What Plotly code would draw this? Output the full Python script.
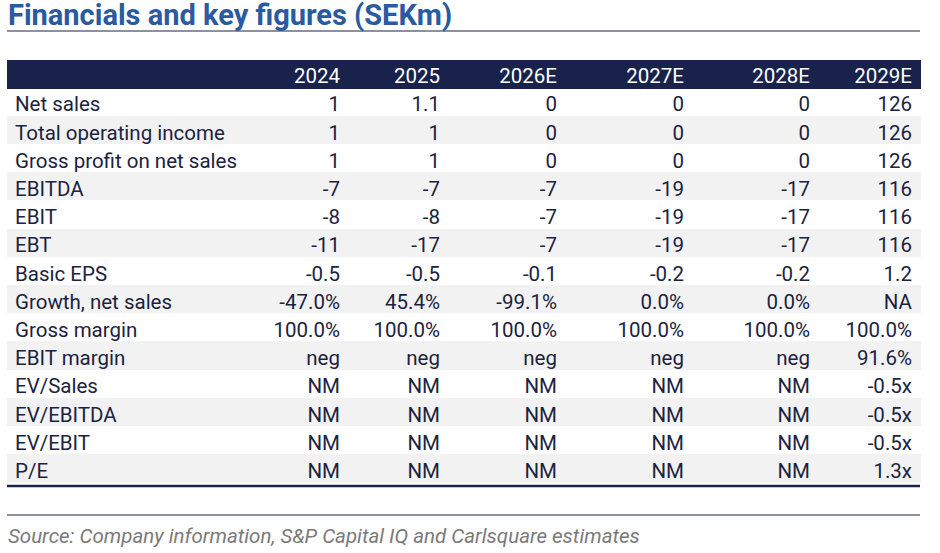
import plotly.graph_objects as go

# table content
columns = ["", "2024", "2025", "2026E", "2027E", "2028E", "2029E"]
row_labels = ["Net sales", "Total operating income", "Gross profit on net sales", "EBITDA",
              "EBIT", "EBT", "Basic EPS", "Growth, net sales", "Gross margin", "EBIT margin",
              "EV/Sales", "EV/EBITDA", "EV/EBIT", "P/E"]
y2024 = ["1", "1", "1", "-7", "-8", "-11", "-0.5", "-47.0%", "100.0%", "neg", "NM", "NM", "NM", "NM"]
y2025 = ["1.1", "1", "1", "-7", "-8", "-17", "-0.5", "45.4%", "100.0%", "neg", "NM", "NM", "NM", "NM"]
y2026 = ["0", "0", "0", "-7", "-7", "-7", "-0.1", "-99.1%", "100.0%", "neg", "NM", "NM", "NM", "NM"]
y2027 = ["0", "0", "0", "-19", "-19", "-19", "-0.2", "0.0%", "100.0%", "neg", "NM", "NM", "NM", "NM"]
y2028 = ["0", "0", "0", "-17", "-17", "-17", "-0.2", "0.0%", "100.0%", "neg", "NM", "NM", "NM", "NM"]
y2029 = ["126", "126", "126", "116", "116", "116", "1.2", "NA", "100.0%", "91.6%", "-0.5x", "-0.5x", "-0.5x", "1.3x"]

title = "Financials and key figures (SEKm)"
source = "Source: Company information, S&P Capital IQ and Carlsquare estimates"

W, H = 940, 553
NAVY = "#18224B"
TXT = "#1B2340"
stripe = ["white" if i % 2 == 0 else "#F2F2F2" for i in range(len(row_labels))]

fig = go.Figure(go.Table(
    domain=dict(x=[7 / W, 920 / W], y=[0, 1 - 60 / H]),
    columnwidth=[268, 73, 100, 117, 127, 126, 102],
    header=dict(
        values=columns,
        fill_color=NAVY,
        line=dict(width=1, color=NAVY),
        align=["left"] + ["right"] * 6,
        font=dict(family="Roboto", size=20.5, color="white"),
        height=28,
    ),
    cells=dict(
        values=[row_labels, y2024, y2025, y2026, y2027, y2028, y2029],
        fill_color=[stripe] * 7,
        line=dict(width=1, color=[stripe] * 7),
        align=["left"] + ["right"] * 6,
        font=dict(family="Roboto", size=20.5, color=TXT),
        height=28.2,
    ),
))

fig.add_annotation(text="<b>" + title + "</b>", xref="paper", yref="paper",
                   x=6 / W, y=1 - 15 / H, xanchor="left", yanchor="middle", showarrow=False,
                   font=dict(family="Roboto", size=29, color="#2B5AA0"))
fig.add_annotation(text="<i>" + source + "</i>", xref="paper", yref="paper",
                   x=6 / W, y=1 - 536 / H, xanchor="left", yanchor="middle", showarrow=False,
                   font=dict(family="Roboto", size=20.5, color="#7A7A7A"))

# rules
fig.add_shape(type="line", xref="paper", yref="paper", x0=7 / W, x1=920 / W,
              y0=1 - 31 / H, y1=1 - 31 / H, line=dict(color=TXT, width=1.2))
fig.add_shape(type="line", xref="paper", yref="paper", x0=7 / W, x1=920 / W,
              y0=1 - 486 / H, y1=1 - 486 / H, line=dict(color=NAVY, width=2.5))
fig.add_shape(type="line", xref="paper", yref="paper", x0=7 / W, x1=920 / W,
              y0=1 - 515 / H, y1=1 - 515 / H, line=dict(color=TXT, width=1.2))

fig.update_layout(width=W, height=H, margin=dict(l=0, r=0, t=0, b=0),
                  paper_bgcolor="white", plot_bgcolor="white")

fig.write_html("out.html", config=dict(displayModeBar=False),
               post_script="document.body.style.margin='0px';")
